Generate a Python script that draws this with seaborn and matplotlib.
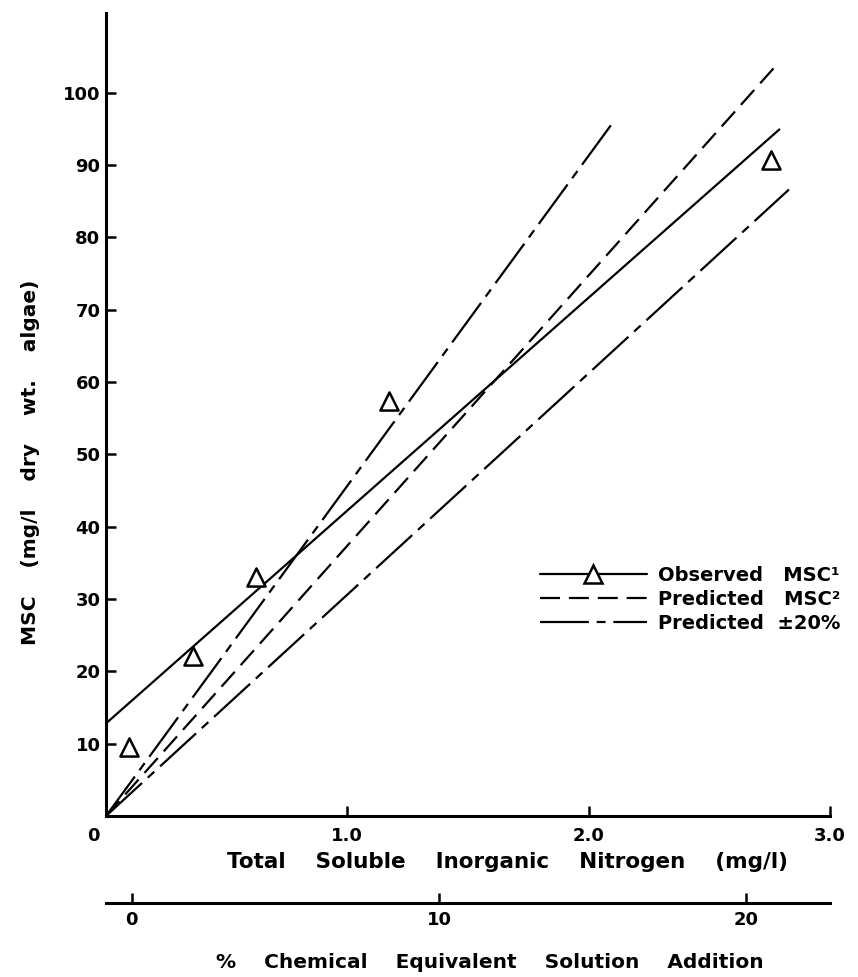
import matplotlib
matplotlib.use("Agg")
import matplotlib.pyplot as plt
from matplotlib.lines import Line2D
import matplotlib.transforms as mtransforms
import seaborn as sns
import pandas as pd

# Observed maximum standing crop (triangles)
obs_x = [0.095, 0.361, 0.622, 1.174, 2.755]
obs_y = [9.5, 22.1, 33.1, 57.4, 90.7]

# Fitted line through the observations
fit_x = [0.0, 2.79]
fit_y = [12.8, 94.9]

# Predicted MSC and the +/-20 % band (all start at the origin)
pred_x = [0.0, 2.77]
pred_y = [0.0, 103.5]
upper_x = [0.0, 2.11]
upper_y = [0.0, 96.3]
lower_x = [0.0, 2.83]
lower_y = [0.0, 86.6]

y_ticks = [10, 20, 30, 40, 50, 60, 70, 80, 90, 100]
x_ticks = [0, 1, 2, 3]
x_tick_labels = ["0", "1.0", "2.0", "3.0"]
pct_ticks = [0, 10, 20]

sns.set_style("ticks")
plt.rcParams["font.family"] = ["DejaVu Sans"]
plt.rcParams["font.weight"] = "bold"
for key in ("text.color", "axes.labelcolor", "xtick.color", "ytick.color",
            "axes.edgecolor"):
    plt.rcParams[key] = "black"

FS_TICK = 13
FS_LAB = 14.5
LW = 1.6

fig = plt.figure(figsize=(8.58, 9.77), dpi=100)
ax = fig.add_axes([106 / 858, 161 / 977, 724 / 858, 803 / 977])

lines = pd.concat([
    pd.DataFrame({"x": fit_x, "y": fit_y, "series": "fit"}),
    pd.DataFrame({"x": pred_x, "y": pred_y, "series": "pred"}),
    pd.DataFrame({"x": upper_x, "y": upper_y, "series": "upper"}),
    pd.DataFrame({"x": lower_x, "y": lower_y, "series": "lower"}),
])

dash_pred = (9, 4)
dash_band = (22, 3.5, 4, 3.5)

sns.lineplot(data=lines, x="x", y="y", units="series", style="series",
             estimator=None, sort=False, color="black", linewidth=LW,
             dashes={"fit": "", "pred": dash_pred, "upper": dash_band,
                     "lower": dash_band},
             legend=False, ax=ax)

sns.scatterplot(x=obs_x, y=obs_y, marker="^", s=170, facecolor="white",
                edgecolor="black", linewidth=1.8, zorder=5, ax=ax)

ax.set_xlim(0, 3.0)
ax.set_ylim(0, 111)
sns.despine(ax=ax)
for side in ("left", "bottom"):
    ax.spines[side].set_linewidth(2.2)

ax.set_yticks(y_ticks)
ax.set_yticklabels([str(v) for v in y_ticks])
ax.set_xticks(x_ticks)
ax.set_xticklabels(x_tick_labels)
ax.tick_params(axis="y", direction="in", length=7, width=1.8, pad=4,
               labelsize=FS_TICK)
ax.tick_params(axis="x", direction="in", length=7, width=1.8, pad=8,
               labelsize=FS_TICK)
for lab in ax.get_yticklabels() + ax.get_xticklabels():
    lab.set_fontweight("bold")
# the origin label sits a little to the left of the corner
zero_lab = ax.get_xticklabels()[0]
zero_lab.set_transform(zero_lab.get_transform() +
                       mtransforms.ScaledTranslation(-13 / 100, 0,
                                                     fig.dpi_scale_trans))

ax.set_xlabel("Total    Soluble    Inorganic    Nitrogen    (mg/l)",
              fontsize=15.5, fontweight="bold")
ax.xaxis.set_label_coords(0.555, -0.045)
ax.set_ylabel("")
fig.text(31 / 858, 1 - 462 / 977, "MSC    (mg/l    dry    wt.    algae)",
         rotation=90, ha="center", va="center", fontsize=FS_LAB,
         fontweight="bold")

# Second scale: percent chemical equivalent solution addition
def to_pct(x):
    return (241.0 * x - 25.5) / 30.7


def from_pct(v):
    return (30.7 * v + 25.5) / 241.0


sec = ax.secondary_xaxis(-0.108, functions=(to_pct, from_pct))
sec.set_xticks(pct_ticks)
sec.set_xticklabels([str(v) for v in pct_ticks])
sec.tick_params(axis="x", direction="in", length=7, width=1.8, pad=6,
                labelsize=FS_TICK)
for lab in sec.get_xticklabels():
    lab.set_fontweight("bold")
sec.spines["bottom"].set_linewidth(2.2)
fig.text(490 / 858, 1 - 963 / 977,
         "%    Chemical    Equivalent    Solution    Addition",
         ha="center", va="center", fontsize=FS_LAB, fontweight="bold")

handles = [
    Line2D([0, 0.5, 1], [0, 0, 0], color="black", linewidth=LW, marker="^",
           markersize=13, markerfacecolor="white", markeredgecolor="black",
           markeredgewidth=1.8, markevery=[1]),
    Line2D([], [], color="black", linewidth=LW, dashes=dash_pred),
    Line2D([], [], color="black", linewidth=LW, dashes=dash_band),
]
leg = ax.legend(handles, ["Observed   MSC¹", "Predicted   MSC²",
                          "Predicted  ±20%"],
                loc="upper left", bbox_to_anchor=(434 / 724, 1 - 553 / 803),
                frameon=False, fontsize=14, handlelength=5.5,
                handletextpad=0.55, labelspacing=0.25, borderaxespad=0,
                borderpad=0)
for t in leg.get_texts():
    t.set_fontweight("bold")

fig.savefig("out.png", dpi=100)
